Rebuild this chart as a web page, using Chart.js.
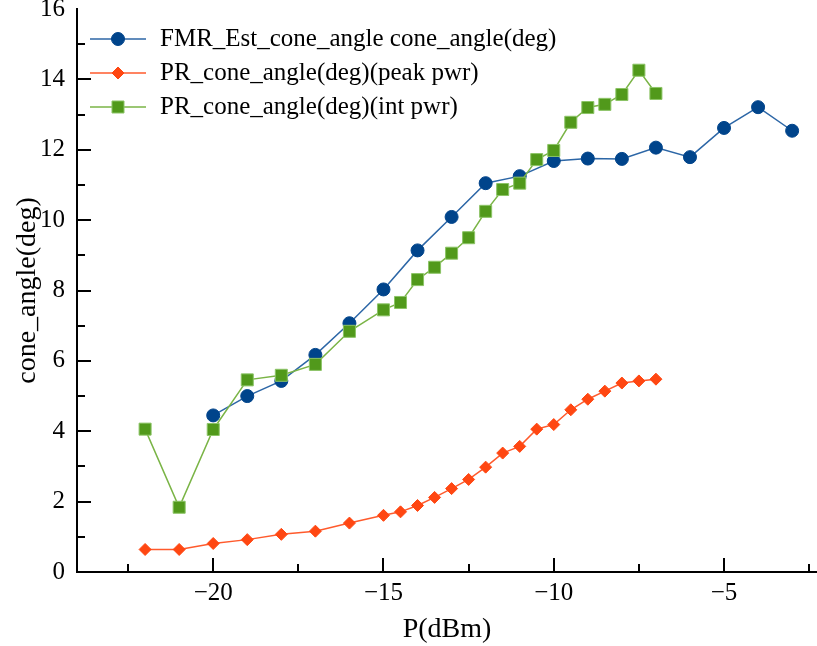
<!DOCTYPE html>
<html lang="en">
<head>
  <meta charset="UTF-8">
  <title>cone_angle vs P(dBm)</title>
  <script src="https://cdn.jsdelivr.net/npm/chart.js"></script>
  <style>
    body {
      margin: 0;
      background-color: white;
    }
    .bloc {
      position: relative;
      width: 817px;
      height: 646px;
    }
  </style>
</head>
<body>
  <div class="bloc">
    <canvas id="graphique"></canvas>
  </div>

  <script>
    // FMR estimate (1 dBm steps)
    const pFMR = [-20, -19, -18, -17, -16, -15, -14, -13, -12, -11, -10, -9, -8, -7, -6, -5, -4, -3];
    const fmrAngle = [4.45, 5.0, 5.43, 6.17, 7.07, 8.03, 9.14, 10.09, 11.05, 11.25, 11.68, 11.75, 11.74, 12.06, 11.79, 12.62, 13.21, 12.54];

    // PR measurements
    const pPR = [-22, -21, -20, -19, -18, -17, -16, -15, -14.5, -14, -13.5, -13, -12.5, -12,
                 -11.5, -11, -10.5, -10, -9.5, -9, -8.5, -8, -7.5, -7];
    const peakAngle = [0.64, 0.64, 0.81, 0.92, 1.07, 1.16, 1.39, 1.61, 1.71, 1.89, 2.12, 2.37, 2.63, 2.98,
                       3.38, 3.57, 4.06, 4.19, 4.61, 4.91, 5.14, 5.37, 5.43, 5.48];
    const intAngle = [4.06, 1.84, 4.05, 5.46, 5.59, 5.9, 6.84, 7.45, 7.66, 8.31, 8.66, 9.06, 9.5, 10.25,
                      10.87, 11.05, 11.72, 11.98, 12.78, 13.2, 13.29, 13.57, 14.26, 13.6];

    const xTicks = [-22.5, -20, -17.5, -15, -12.5, -10, -7.5, -5, -2.5];
    const xMajor = [-20, -15, -10, -5];

    const police = 'Liberation Serif';

    function points(xs, ys) {
      return xs.map((x, i) => ({x: x, y: ys[i]}));
    }

    // ticks pointing inwards, long on major, short on minor
    const ticksDedans = {
      id: 'ticksDedans',
      afterDraw(chart) {
        const ctx = chart.ctx;
        const area = chart.chartArea;
        const sx = chart.scales.x;
        const sy = chart.scales.y;
        ctx.save();
        ctx.strokeStyle = '#000';
        ctx.lineWidth = 2;
        sx.ticks.forEach(t => {
          const px = Math.round(sx.getPixelForValue(t.value));
          const len = xMajor.includes(t.value) ? 14 : 8;
          ctx.beginPath();
          ctx.moveTo(px, area.bottom);
          ctx.lineTo(px, area.bottom - len);
          ctx.stroke();
        });
        sy.ticks.forEach(t => {
          if (t.value <= sy.min || t.value >= sy.max) return;
          const py = Math.round(sy.getPixelForValue(t.value));
          const len = t.value % 2 === 0 ? 14 : 8;
          ctx.beginPath();
          ctx.moveTo(area.left, py);
          ctx.lineTo(area.left + len, py);
          ctx.stroke();
        });
        ctx.restore();
      }
    };

    // legend drawn inside the plot, line + marker
    const legende = {
      id: 'legende',
      afterDraw(chart) {
        const ctx = chart.ctx;
        const rangs = [39, 73, 107];
        ctx.save();
        chart.data.datasets.forEach((ds, i) => {
          const y = rangs[i];
          ctx.strokeStyle = ds.borderColor;
          ctx.lineWidth = 1.5;
          ctx.beginPath();
          ctx.moveTo(90, y);
          ctx.lineTo(146, y);
          ctx.stroke();
          ctx.fillStyle = ds.pointBackgroundColor;
          ctx.strokeStyle = ds.pointBorderColor;
          ctx.lineWidth = 1;
          Chart.helpers.drawPoint(ctx, {pointStyle: ds.pointStyle, radius: ds.pointRadius, borderWidth: 1}, 118, y);
          ctx.fillStyle = '#000';
          ctx.font = '25px "' + police + '"';
          ctx.textBaseline = 'middle';
          ctx.textAlign = 'left';
          ctx.fillText(ds.label, 160, y);
        });
        ctx.restore();
      }
    };

    new Chart(document.getElementById('graphique'), {
      type: 'line',
      data: {
        datasets: [
          {
            label: 'FMR_Est_cone_angle cone_angle(deg)',
            data: points(pFMR, fmrAngle),
            borderColor: '#2c66a6',
            borderWidth: 1.5,
            pointStyle: 'circle',
            pointRadius: 6.5,
            pointBackgroundColor: '#00448b',
            pointBorderColor: '#00448b',
            pointBorderWidth: 1,
            order: 1
          },
          {
            label: 'PR_cone_angle(deg)(peak pwr)',
            data: points(pPR, peakAngle),
            borderColor: '#ff5a2c',
            borderWidth: 1.5,
            pointStyle: 'rectRot',
            pointRadius: 6,
            pointBackgroundColor: '#ff4712',
            pointBorderColor: '#ff4712',
            pointBorderWidth: 1,
            order: 2
          },
          {
            label: 'PR_cone_angle(deg)(int pwr)',
            data: points(pPR, intAngle),
            borderColor: '#7ab446',
            borderWidth: 1.5,
            pointStyle: 'rect',
            pointRadius: 8.5,
            pointBackgroundColor: '#51991b',
            pointBorderColor: '#8cc466',
            pointBorderWidth: 1,
            order: 0
          }
        ]
      },
      options: {
        responsive: true,
        maintainAspectRatio: false,
        animation: false,
        layout: { autoPadding: false, padding: 0 },
        plugins: {
          legend: { display: false },
          tooltip: { enabled: false }
        },
        scales: {
          x: {
            type: 'linear',
            min: -24,
            max: -2.27,
            grid: { display: false, drawTicks: false },
            border: { display: true, color: '#000', width: 2 },
            afterBuildTicks: scale => {
              scale.ticks = xTicks.map(v => ({value: v}));
            },
            afterFit: scale => {
              scale.height = 74;
              scale.paddingLeft = 0;
              scale.paddingRight = 0;
            },
            ticks: {
              padding: 6,
              color: '#000',
              font: { family: police, size: 25 },
              autoSkip: false,
              maxRotation: 0,
              callback: v => xMajor.includes(v) ? String(v).replace('-', '\u2212') : ''
            },
            title: {
              display: true,
              text: 'P(dBm)',
              color: '#000',
              font: { family: police, size: 28 },
              padding: { top: -3, bottom: 0 }
            }
          },
          y: {
            min: 0,
            max: 16,
            grid: { display: false, drawTicks: false },
            border: { display: true, color: '#000', width: 2 },
            afterFit: scale => {
              scale.width = 77;
              scale.paddingTop = 9;
              scale.paddingBottom = 0;
            },
            ticks: {
              stepSize: 1,
              padding: 12,
              color: '#000',
              font: { family: police, size: 25 },
              callback: v => v % 2 === 0 ? String(v) : ''
            },
            title: {
              display: true,
              text: 'cone_angle(deg)',
              color: '#000',
              font: { family: police, size: 28 },
              padding: { top: 11, bottom: 0 }
            }
          }
        }
      },
      plugins: [ticksDedans, legende]
    });
  </script>
</body>
</html>
